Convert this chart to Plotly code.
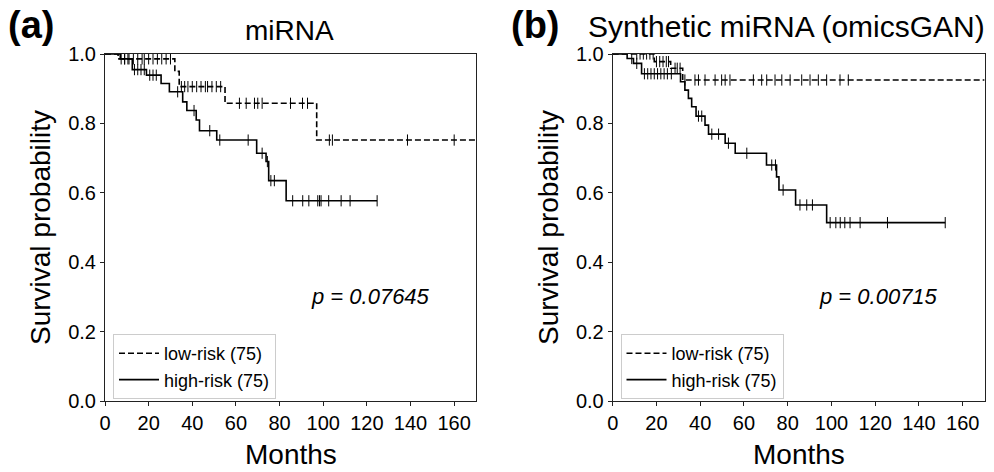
import numpy as np
import plotly.graph_objects as go

# ---------------- data ----------------
# Panel (a): miRNA
a_low_times = [0, 6, 32, 34, 55, 97]
a_low_surv = [1.0, 0.986, 0.95, 0.906, 0.858, 0.752]
a_low_end = 170
a_low_censor = [7.4, 9, 11, 13, 15, 17, 18, 20, 22, 24, 26, 28, 30,
                35, 36.5, 38, 40, 42, 44, 46, 47, 49, 51, 53,
                61.6, 64.7, 68.5, 70, 72, 85, 90.5, 92.8,
                102.8, 104.2, 138.6, 160]

a_high_times = [0, 7, 12.5, 19, 25.7, 29.5, 35.6, 37.5, 41.8, 43.3, 51.2, 69.5, 73.8, 75, 83]
a_high_surv = [1.0, 0.986, 0.955, 0.939, 0.915, 0.891, 0.862, 0.837, 0.81, 0.779, 0.752,
               0.714, 0.69, 0.635, 0.577]
a_high_end = 124.7
a_high_censor = [9, 10.5, 13.5, 15, 16.5, 18, 20.5, 22, 23.5, 33.3, 40.8, 48, 52.6, 65.6,
                 72, 74.4, 76, 77.6, 86, 90.6, 93.4, 97.5, 98.3, 99, 102.5, 108.2, 112.3, 124.7]

# Panel (b): Synthetic miRNA (omicsGAN)
b_low_times = [0, 19, 26.5, 32]
b_low_surv = [1.0, 0.978, 0.959, 0.925]
b_low_end = 170
b_low_censor = [11, 12.5, 14, 15.5, 17, 18.5, 20, 21.5, 23, 24.5, 25.5, 28.5, 29.5, 30.8,
                33, 37.6, 39.2, 42.2, 46.8, 49.8, 51.4, 53.6, 64.3, 68.1, 70.4, 74.2, 77.3,
                81.1, 86.4, 90.2, 94, 97.8, 103.9, 107.7]

b_high_times = [0, 6.6, 9.5, 13.2, 31, 33, 34.6, 36.1, 38.1, 42.2, 43.8, 51.4, 56, 70.3,
                74.9, 76, 83.6, 97.8]
b_high_surv = [1.0, 0.987, 0.973, 0.943, 0.920, 0.896, 0.872, 0.848, 0.821, 0.795, 0.769,
               0.743, 0.714, 0.68, 0.646, 0.608, 0.565, 0.514]
b_high_end = 152
b_high_censor = [8.7, 11, 14.5, 16, 17.5, 19, 20.5, 22, 23.5, 25, 26.8, 39.2, 40.7, 45.3,
                 48.4, 52.9, 61.3, 72.7, 74.4, 77.9, 85.6, 88.7, 91.3, 99.4, 102, 104, 106.1,
                 108.5, 113.1, 125.6, 152]

labels = ["low-risk (75)", "high-risk (75)"]
titles = ["miRNA", "Synthetic miRNA (omicsGAN)"]
pvals = ["p = 0.07645", "p = 0.00715"]
panel_tags = ["(a)", "(b)"]
xticks = [0, 20, 40, 60, 80, 100, 120, 140, 160]
yticks = [0.0, 0.2, 0.4, 0.6, 0.8, 1.0]

# ---------------- figure ----------------
FONT = "Liberation Sans, Arial, sans-serif"
fig = go.Figure()


def step_xy(times, surv, end):
    return list(times) + [end], list(surv) + [surv[-1]]


def censor_y(times, surv, ct):
    idx = np.searchsorted(np.array(times), np.array(ct), side="right") - 1
    return list(np.array(surv)[idx])


panels = [
    (a_low_times, a_low_surv, a_low_end, a_low_censor,
     a_high_times, a_high_surv, a_high_end, a_high_censor),
    (b_low_times, b_low_surv, b_low_end, b_low_censor,
     b_high_times, b_high_surv, b_high_end, b_high_censor),
]

for i, p in enumerate(panels):
    lt, ls, le, lc, ht, hs, he, hc = p
    xa = "x" if i == 0 else "x2"
    ya = "y" if i == 0 else "y2"
    lg = "legend" if i == 0 else "legend2"
    x, y = step_xy(lt, ls, le)
    fig.add_trace(go.Scatter(x=x, y=y, mode="lines", line_shape="hv",
                             line=dict(color="black", width=1.6, dash="6px,3px"),
                             name=labels[0], xaxis=xa, yaxis=ya, legend=lg))
    x, y = step_xy(ht, hs, he)
    fig.add_trace(go.Scatter(x=x, y=y, mode="lines", line_shape="hv",
                             line=dict(color="black", width=1.6),
                             name=labels[1], xaxis=xa, yaxis=ya, legend=lg))
    fig.add_trace(go.Scatter(x=lc, y=censor_y(lt, ls, lc), mode="markers",
                             marker=dict(symbol="line-ns", size=8, color="black",
                                         line=dict(color="black", width=1)),
                             showlegend=False, xaxis=xa, yaxis=ya, hoverinfo="skip"))
    fig.add_trace(go.Scatter(x=hc, y=censor_y(ht, hs, hc), mode="markers",
                             marker=dict(symbol="line-ns", size=8, color="black",
                                         line=dict(color="black", width=1)),
                             showlegend=False, xaxis=xa, yaxis=ya, hoverinfo="skip"))

W, H = 994, 472
xdom = [[105 / W, 476 / W], [612.7 / W, 984.6 / W]]
ydom = [1 - 401 / H, 1 - 54 / H]

axis_common = dict(showline=True, linecolor="#222", linewidth=1, mirror=True,
                   ticks="outside", ticklen=4, tickcolor="#222", showgrid=False,
                   zeroline=False, automargin=False,
                   tickfont=dict(family=FONT, size=20, color="black"))

fig.update_layout(
    width=W, height=H,
    margin=dict(l=0, r=0, t=0, b=0, autoexpand=False),
    paper_bgcolor="white", plot_bgcolor="white",
    font=dict(family=FONT, color="black"),
    xaxis=dict(domain=xdom[0], range=[0, 170], tickvals=xticks, anchor="y", **axis_common),
    yaxis=dict(domain=ydom, range=[0, 1.0], tickvals=yticks, tickformat=".1f",
               anchor="x", **axis_common),
    xaxis2=dict(domain=xdom[1], range=[0, 170], tickvals=xticks, anchor="y2", **axis_common),
    yaxis2=dict(domain=ydom, range=[0, 1.0], tickvals=yticks, tickformat=".1f",
                anchor="x2", **axis_common),
    legend=dict(x=113 / W, y=1 - 334 / H, xanchor="left", yanchor="top",
                bgcolor="white", bordercolor="#cccccc", borderwidth=1,
                font=dict(family=FONT, size=18), tracegroupgap=0, itemwidth=40),
    legend2=dict(x=620.5 / W, y=1 - 334 / H, xanchor="left", yanchor="top",
                 bgcolor="white", bordercolor="#cccccc", borderwidth=1,
                 font=dict(family=FONT, size=18), tracegroupgap=0, itemwidth=40),
    showlegend=True,
)

ann = []
centers = [(105 + 476) / 2, (612.7 + 984.6) / 2]
title_x = [289, 786]
title_y = [30, 27]
title_size = [28, 30]
for i in range(2):
    ann.append(dict(text=titles[i], x=title_x[i] / W, y=1 - title_y[i] / H, xref="paper",
                    yref="paper", showarrow=False,
                    font=dict(family=FONT, size=title_size[i]), xanchor="center",
                    yanchor="middle"))
    ann.append(dict(text="Months", x=centers[i] / W, y=1 - 454 / H, xref="paper",
                    yref="paper", showarrow=False, font=dict(family=FONT, size=28),
                    xanchor="center", yanchor="middle"))
    ylab_x = [40, 548][i]
    ann.append(dict(text="Survival probability", x=ylab_x / W, y=1 - 228 / H, xref="paper",
                    yref="paper", showarrow=False, textangle=-90,
                    font=dict(family=FONT, size=28), xanchor="center", yanchor="middle"))
    ann.append(dict(text="<i>" + pvals[i] + "</i>", x=[309, 817][i] / W, y=1 - 296 / H,
                    xref="paper", yref="paper", showarrow=False,
                    font=dict(family=FONT, size=22), xanchor="left", yanchor="middle"))
    ann.append(dict(text="<b>" + panel_tags[i] + "</b>", x=[6, 509][i] / W, y=1 - 25 / H,
                    xref="paper", yref="paper", showarrow=False,
                    font=dict(family=FONT, size=38), xanchor="left", yanchor="middle"))
fig.update_layout(annotations=ann)

fig.write_html(
    "out.html",
    config={"displayModeBar": False},
    post_script="document.body.style.margin='0';document.body.style.overflow='hidden';",
)
